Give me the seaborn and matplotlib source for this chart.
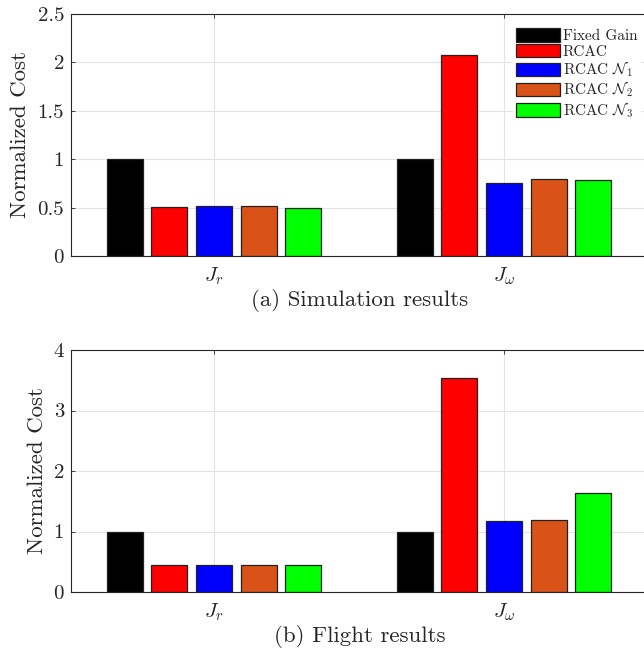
import pandas as pd
import seaborn as sns
import matplotlib.pyplot as plt
from matplotlib.ticker import FuncFormatter

# values
costs = [r"$J_r$", r"$J_\omega$"]
methods = ["Fixed Gain", "RCAC", r"RCAC $\mathcal{N}_1$",
           r"RCAC $\mathcal{N}_2$", r"RCAC $\mathcal{N}_3$"]
colors = ["#000000", "#FF0000", "#0000FF", "#D95319", "#00FF00"]

sim_jr = [1.0, 0.51, 0.52, 0.515, 0.50]
sim_jw = [1.0, 2.08, 0.75, 0.80, 0.78]
flight_jr = [1.0, 0.44, 0.45, 0.446, 0.45]
flight_jw = [1.0, 3.54, 1.17, 1.19, 1.63]


def long_df(jr, jw):
    rows = []
    for m, a, b in zip(methods, jr, jw):
        rows.append({"cost": costs[0], "method": m, "value": a})
        rows.append({"cost": costs[1], "method": m, "value": b})
    return pd.DataFrame(rows)


sns.set_style("white")
plt.rcParams["font.family"] = ["cmr10"]
plt.rcParams["mathtext.fontset"] = "cm"
plt.rcParams["axes.formatter.use_mathtext"] = True

fig = plt.figure(figsize=(6.44, 6.53), dpi=100)
ax1 = fig.add_axes([71 / 644, 1 - 256 / 653, 578 / 644, 242 / 653])
ax2 = fig.add_axes([71 / 644, 1 - 592 / 653, 578 / 644, 242 / 653])

panels = [
    (ax1, long_df(sim_jr, sim_jw), 2.5, [0, 0.5, 1, 1.5, 2, 2.5], "(a) Simulation results"),
    (ax2, long_df(flight_jr, flight_jw), 4, [0, 1, 2, 3, 4], "(b) Flight results"),
]

for i, (ax, df, ymax, yticks, xlab) in enumerate(panels):
    sns.barplot(data=df, x="cost", y="value", hue="method", hue_order=methods,
                palette=colors, saturation=1, width=0.77, gap=0.2, ax=ax,
                edgecolor="#222222", linewidth=0.9, legend=(i == 0))
    ax.set_xlim(-0.493, 1.5)
    ax.set_ylim(0, ymax)
    ax.set_yticks(yticks)
    ax.yaxis.set_major_formatter(FuncFormatter(lambda v, p: "%g" % v))
    ax.grid(True, color="#e3e3e3", linewidth=0.8)
    ax.set_axisbelow(True)
    for s in ax.spines.values():
        s.set_color("#262626")
        s.set_linewidth(0.8)
    ax.tick_params(direction="in", length=3, width=0.6, colors="#262626",
                   labelsize=15, top=True, bottom=True, left=True)
    ax.tick_params(axis="y", pad=5)
    ax.tick_params(axis="x", pad=7)
    ax.set_ylabel("Normalized Cost", fontsize=16.5, color="#262626", labelpad=5)
    ax.set_xlabel(xlab, fontsize=16.5, color="#262626", labelpad=1)

leg = ax1.legend(loc="upper right", bbox_to_anchor=(0.998, 0.985), fontsize=11,
                 frameon=True, fancybox=False, framealpha=1, edgecolor="white",
                 handlelength=2.9, handleheight=0.95, handletextpad=0.15,
                 labelspacing=0.05, borderpad=0.2)

fig.savefig("out.png", dpi=100)
